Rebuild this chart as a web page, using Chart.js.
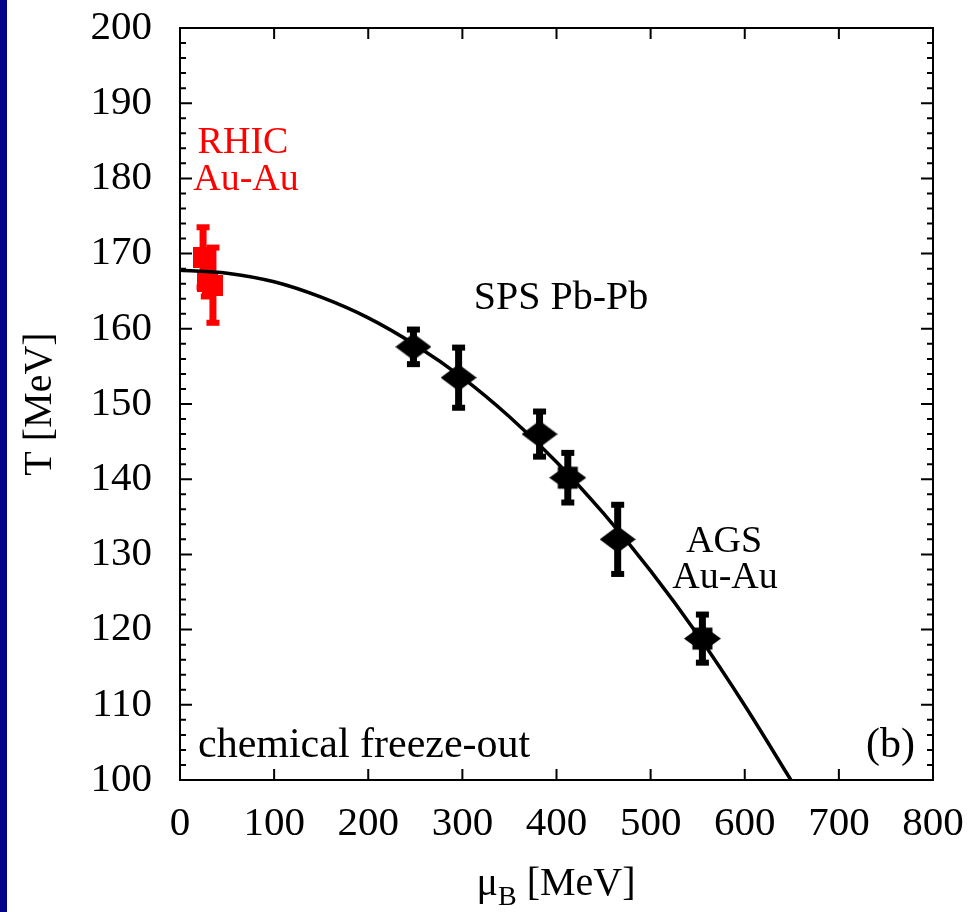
<!DOCTYPE html>
<html>
<head>
<meta charset="utf-8">
<script src="https://cdn.jsdelivr.net/npm/chart.js@4.4.0/dist/chart.umd.min.js"></script>
<style>
html, body { margin: 0; padding: 0; background: #fff; }
</style>
</head>
<body>
<canvas id="myChart" width="975" height="912"></canvas>
<script>
var serif = '"Liberation Serif", "Times New Roman", serif';

// freeze-out curve
var curveMu = [0, 50, 100, 150, 200, 250, 300, 350, 400, 450, 500, 550, 600, 649];
var curveT = [167.8, 167.4, 166.25, 164.2, 161.45, 157.85, 153.5, 148.3, 142.3, 135.45, 127.8, 119.3, 109.9, 100];

// RHIC Au-Au (red squares)
var rhicMu = [24.5, 29, 35];
var rhicT = [169.5, 166.3, 165.8];
var rhicErr = [4, 2, 5];

// SPS Pb-Pb and AGS Au-Au (black diamonds)
var blackMu = [248, 296, 382, 412, 465, 555];
var blackT = [157.6, 153.5, 146, 140.2, 132, 118.8];
var blackErr = [2.3, 4, 3, 3.3, 4.6, 3.2];

// tick labels
var xTicks = [0, 100, 200, 300, 400, 500, 600, 700, 800];
var yTicks = [100, 110, 120, 130, 140, 150, 160, 170, 180, 190, 200];

function toPoints(xs, ys) {
  return xs.map(function (x, i) { return {x: x, y: ys[i]}; });
}

// marker images
function diamond(w, h, withSquare) {
  var c = document.createElement('canvas');
  c.width = w; c.height = h;
  var g = c.getContext('2d');
  g.fillStyle = '#000';
  g.beginPath();
  g.moveTo(w / 2, 0); g.lineTo(w, h / 2); g.lineTo(w / 2, h); g.lineTo(0, h / 2);
  g.closePath();
  g.fill();
  if (withSquare) g.fillRect(w / 2 - 10, h / 2 - 11, 20, 22);
  return c;
}
function square(s, col) {
  var c = document.createElement('canvas');
  c.width = s; c.height = s;
  var g = c.getContext('2d');
  g.fillStyle = col;
  g.fillRect(0, 0, s, s);
  return c;
}
var dia = diamond(36, 27, false);
var diaSq = diamond(37, 27, true);
var redSq = square(21, '#ff0000');

var errorBars = {
  id: 'errorBars',
  beforeDatasetsDraw: function (chart) {
    var ctx = chart.ctx, xs = chart.scales.x, ys = chart.scales.y;
    function bars(mu, t, err, col) {
      ctx.save();
      ctx.fillStyle = col;
      for (var i = 0; i < mu.length; i++) {
        var px = xs.getPixelForValue(mu[i]);
        var top = ys.getPixelForValue(t[i] + err[i]);
        var bot = ys.getPixelForValue(t[i] - err[i]);
        ctx.fillRect(px - 3.5, top, 7, bot - top);
        ctx.fillRect(px - 6.5, top - 3, 13, 6);
        ctx.fillRect(px - 6.5, bot - 3, 13, 6);
      }
      ctx.restore();
    }
    bars(rhicMu, rhicT, rhicErr, '#ff0000');
    bars(blackMu, blackT, blackErr, '#000');
  }
};

var frame = {
  id: 'frame',
  beforeDraw: function (chart) {
    var ctx = chart.ctx;
    ctx.save();
    ctx.fillStyle = '#fff';
    ctx.fillRect(0, 0, chart.width, chart.height);
    ctx.fillStyle = '#04048a';
    ctx.fillRect(0, 0, 7, chart.height);
    ctx.restore();
  },
  afterDraw: function (chart) {
    var ctx = chart.ctx, a = chart.chartArea, xs = chart.scales.x, ys = chart.scales.y;
    ctx.save();
    ctx.strokeStyle = '#000';
    ctx.lineWidth = 2;
    ctx.strokeRect(a.left, a.top, a.right - a.left, a.bottom - a.top);
    ctx.beginPath();
    xTicks.forEach(function (v) {
      var px = xs.getPixelForValue(v);
      ctx.moveTo(px, a.bottom); ctx.lineTo(px, a.bottom - 11);
      ctx.moveTo(px, a.top); ctx.lineTo(px, a.top + 11);
    });
    for (var v = yTicks[0]; v <= yTicks[yTicks.length - 1]; v += 2) {
      var py = ys.getPixelForValue(v);
      var len = (v % 10 === 0) ? 12 : 6;
      ctx.moveTo(a.left, py); ctx.lineTo(a.left + len, py);
      ctx.moveTo(a.right, py); ctx.lineTo(a.right - len, py);
    }
    ctx.stroke();

    // annotations
    ctx.textBaseline = 'alphabetic';
    ctx.font = '38px ' + serif;
    ctx.fillStyle = '#ff0000';
    ctx.textAlign = 'center';
    ctx.fillText('RHIC', 243, 153);
    ctx.fillText('Au-Au', 246, 190);
    ctx.fillStyle = '#000';
    ctx.fillText('AGS', 724, 552);
    ctx.fillText('Au-Au', 725, 588);
    ctx.font = '40px ' + serif;
    ctx.fillText('SPS Pb-Pb', 561, 309);
    ctx.font = '42px ' + serif;
    ctx.textAlign = 'left';
    ctx.fillText('chemical freeze-out', 198, 757);
    ctx.textAlign = 'right';
    ctx.fillText('(b)', 915, 757);

    // y title
    ctx.font = '40px ' + serif;
    ctx.save();
    ctx.translate(40, (a.top + a.bottom) / 2);
    ctx.rotate(-Math.PI / 2);
    ctx.textAlign = 'center';
    ctx.textBaseline = 'middle';
    ctx.fillText('T [MeV]', 0, 0);
    ctx.restore();

    // x title with subscript
    ctx.textAlign = 'left';
    var w1 = ctx.measureText('\u03bc').width;
    var w3 = ctx.measureText(' [MeV]').width;
    ctx.font = '28px ' + serif;
    var w2 = ctx.measureText('B').width;
    var x0 = 556 - (w1 + w2 + w3) / 2;
    ctx.font = '40px ' + serif;
    ctx.fillText('\u03bc', x0, 895);
    ctx.fillText(' [MeV]', x0 + w1 + w2, 895);
    ctx.font = '28px ' + serif;
    ctx.fillText('B', x0 + w1, 905);
    ctx.restore();
  }
};

var element = document.getElementById('myChart').getContext('2d');

var chartData = {
  datasets: [
    {
      label: 'fit',
      type: 'line',
      data: toPoints(curveMu, curveT),
      borderColor: '#000',
      borderWidth: 3.5,
      pointRadius: 0,
      fill: false,
      cubicInterpolationMode: 'monotone'
    },
    {
      label: 'SPS / AGS',
      data: toPoints(blackMu, blackT),
      pointStyle: [dia, dia, dia, diaSq, dia, diaSq],
      pointRadius: 14
    },
    {
      label: 'RHIC',
      data: toPoints(rhicMu, rhicT),
      pointStyle: redSq,
      pointRadius: 10
    }
  ]
};

// the gap between labels and frame comes from an invisible tick length,
// so that Chart.js does not add it to the outer padding
var hiddenGrid = function (len) {
  return { display: false, drawOnChartArea: false, drawTicks: true, tickLength: len, color: 'rgba(0,0,0,0)' };
};

var chartOptions = {
  responsive: false,
  animation: false,
  layout: { padding: { left: 0, right: 42, top: 28, bottom: 0 } },
  plugins: { legend: { display: false }, tooltip: { enabled: false } },
  scales: {
    x: {
      type: 'linear', min: 0, max: 800, position: 'bottom',
      grid: hiddenGrid(20),
      border: { display: false },
      ticks: { font: { family: serif, size: 41 }, color: '#000', padding: 0, maxRotation: 0, autoSkip: false },
      afterBuildTicks: function (s) { s.ticks = xTicks.map(function (v) { return {value: v}; }); },
      afterFit: function (s) { s.height = 132; }
    },
    y: {
      type: 'linear', min: 100, max: 200,
      grid: hiddenGrid(28),
      border: { display: false },
      ticks: { font: { family: serif, size: 41 }, color: '#000', padding: 0, autoSkip: false },
      afterBuildTicks: function (s) { s.ticks = yTicks.map(function (v) { return {value: v}; }); },
      afterFit: function (s) { s.width = 180; }
    }
  }
};

var chart = new Chart(element, {
  type: 'scatter',
  data: chartData,
  options: chartOptions,
  plugins: [errorBars, frame]
});
</script>
</body>
</html>
